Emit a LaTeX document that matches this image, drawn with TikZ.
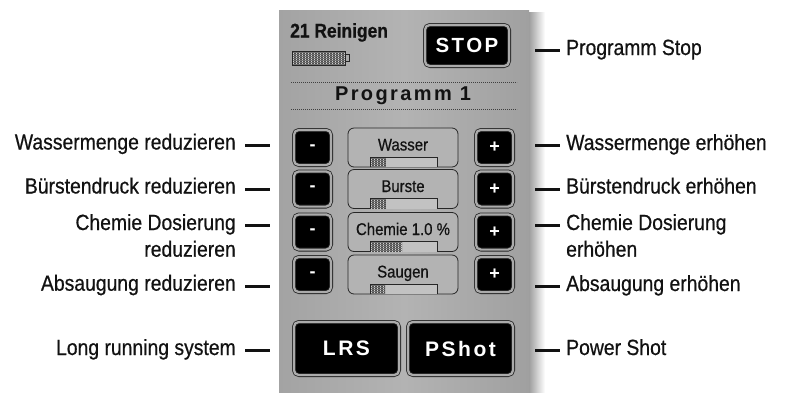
\documentclass[tikz,border=0pt]{standalone}
\usepackage{fontspec}
\setmainfont{Liberation Sans}
\newfontfamily\cond[FakeStretch=0.88,FakeBold=0.6]{Liberation Sans}
\newfontfamily\spaced[LetterSpace=12]{Liberation Sans}

\definecolor{panelgray}{HTML}{ABABAB}
\definecolor{panelleft}{HTML}{A3A3A3}
\definecolor{panelright}{HTML}{A0A0A0}
\definecolor{boxgray}{HTML}{B3B3B3}
\definecolor{inktext}{HTML}{121212}

% hatched level indicator: x1 y1 x2 y2
\newcommand\hatchfill[4]{%
  \begin{scope}
    \clip (#1,#2) rectangle (#3,#4);
    \fill[black!18] (#1,#2) rectangle (#3,#4);
    \foreach \k in {0,...,40}
      \draw[black!70, line width=0.45pt] (#1+0.6+\k*1.5,#2) -- (#1+0.6+\k*1.5,#4);
    \foreach \k in {0,...,8}
      \draw[black!55, line width=0.35pt] (#1,#2+1+\k*2) -- (#3,#2+1+\k*2);
  \end{scope}}

\begin{document}
\begin{tikzpicture}[x=1pt,y=-1pt,
  lbl/.style={font=\cond\fontsize{22}{26.7}\selectfont, text=inktext, inner sep=0pt},
  lefttext/.style={lbl, anchor=base east, align=right},
  righttext/.style={lbl, anchor=base west, align=left},
  tick/.style={line width=2.6pt, draw=inktext},
  btn/.style={fill=black, draw=black!85, line width=0.8pt, double=panelgray,
    double distance=2.2pt, rounded corners=5pt, text=white, inner sep=0pt},
  sqbtn/.style={btn, minimum width=37.2pt, minimum height=35.2pt,
    font=\bfseries\fontsize{18}{18}\selectfont},
  bigbtn/.style={btn, minimum width=105.2pt, minimum height=53.2pt,
    font=\spaced\bfseries\fontsize{21}{21}\selectfont},
  stopbtn/.style={btn, minimum width=84.2pt, minimum height=41.2pt,
    font=\spaced\bfseries\fontsize{20.5}{20.5}\selectfont},
  valbox/.style={draw=black!85, line width=0.8pt, fill=boxgray, rounded corners=6pt,
    minimum width=110pt, minimum height=39pt, inner sep=0pt},
  valtext/.style={font=\cond\fontsize{17}{17}\selectfont, text=inktext, inner sep=0pt, anchor=base},
  levelframe/.style={draw=black!85, line width=0.8pt},
  dots/.style={draw=black!75, line width=0.8pt, dash pattern=on 0.8pt off 1.2pt}
]
\useasboundingbox (0,0) rectangle (787,392);

% panel with its drop shadow
\shade[left color=black!38, right color=white] (529,12) rectangle (545,392);
\shade[left color=panelleft, right color=panelright, middle color=boxgray] (279,10) rectangle (529,392);

% header: program counter, level and stop button
\node[font=\cond\bfseries\fontsize{19.8}{19.8}\selectfont, text=inktext, anchor=base west, inner sep=0pt]
  (count) at (290,37.5) {21 Reinigen};
\hatchfill{292}{51}{345}{65}
\draw[levelframe] (292,51) rectangle (345,65);
\draw[levelframe, fill=panelgray] (345,54.5) rectangle (349.5,61.5);
\node[stopbtn] (stop) at (467,45.5) {STOP};

\draw[dots] (291,82) -- (517,82);
\node[font=\spaced\bfseries\fontsize{20}{20}\selectfont, text=inktext, inner sep=0pt]
  (prog) at (403,96) {Programm 1};
\draw[dots] (291,109) -- (517,109);

% parameter rows
\foreach \nm/\txt/\yc/\lv in {wa/Wasser/147.5/16, bu/Burste/189/16, ch/{Chemie 1.0 \%}/232/32, sa/Saugen/274.5/15}{
  \node[sqbtn] (minus\nm) at (312.5,\yc) {-};
  \node[sqbtn] (plus\nm) at (494.5,\yc) {+};
  \node[valbox] (box\nm) at (403,\yc) {};
  \node[valtext] (txt\nm) at (403,\yc+3) {\txt};
  \fill[boxgray!80!white] (370,\yc+9.5) rectangle (437,\yc+19.5);
  \hatchfill{370}{\yc+9.5}{370+\lv}{\yc+19.5}
  \draw[levelframe] (370,\yc+19.5) |- (437,\yc+9.5) -- (437,\yc+19.5);
}

% big buttons
\node[bigbtn] (lrs) at (346.5,348.5) {LRS};
\node[bigbtn] (pshot) at (460.5,348.5) {PShot};

% left labels (multi-line nodes sit on their last baseline)
\node[lefttext] (lwa) at (236,149.5) {Wassermenge reduzieren};
\node[lefttext] (lbu) at (236,193.5) {Bürstendruck reduzieren};
\node[lefttext] (lch) at (236,256.7) {Chemie Dosierung\\reduzieren};
\node[lefttext] (lsa) at (236,290.7) {Absaugung reduzieren};
\node[lefttext] (llrs) at (236,355) {Long running system};

% right labels
\node[righttext] (rstop) at (566,55) {Programm Stop};
\node[righttext] (rwa) at (566,150) {Wassermenge erhöhen};
\node[righttext] (rbu) at (566,193.5) {Bürstendruck erhöhen};
\node[righttext] (rch) at (566,256.7) {Chemie Dosierung\\erhöhen};
\node[righttext] (rsa) at (566,291) {Absaugung erhöhen};
\node[righttext] (rps) at (566,355) {Power Shot};

% leader ticks
\foreach \nm/\yy in {wa/145.5, bu/189.5, ch/225.5, sa/286.5, lrs/350.5}{
  \coordinate (la\nm) at (245,\yy);
  \coordinate (lb\nm) at (270,\yy);
  \draw[tick] (la\nm) -- (lb\nm);
}
\foreach \nm/\yy in {stop/50.5, wa/145.5, bu/189.5, ch/225.5, sa/286.5, ps/350.5}{
  \coordinate (ra\nm) at (535,\yy);
  \coordinate (rb\nm) at (560,\yy);
  \draw[tick] (ra\nm) -- (rb\nm);
}
\end{tikzpicture}
\end{document}
